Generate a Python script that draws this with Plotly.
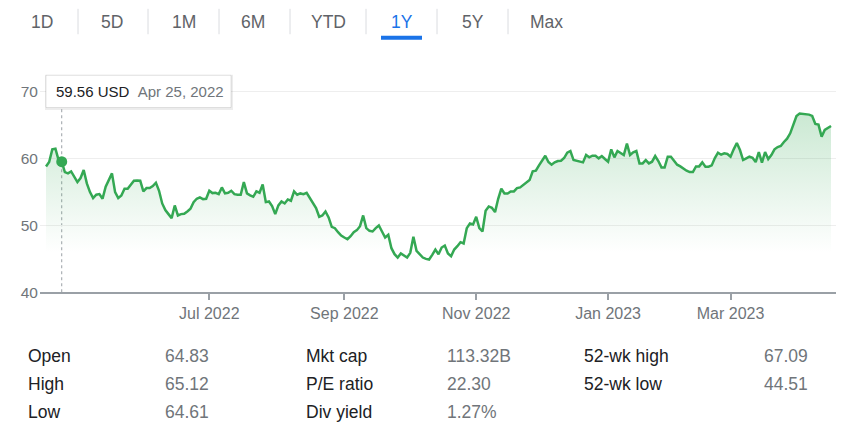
import pandas as pd
import plotly.graph_objects as go

W, H = 859, 441

# ---------------- data ----------------
holidays = ["2022-05-30", "2022-06-20", "2022-07-04", "2022-09-05", "2022-11-24",
            "2022-12-26", "2023-01-02", "2023-01-16", "2023-02-20", "2023-04-07"]
dates = pd.bdate_range("2022-04-18", "2023-04-17", freq="C", holidays=holidays)

prices = [
    58.84, 59.5, 61.4, 61.5, 59.8, 59.56, 58.0, 57.8, 58.1, 57.3,
    56.5, 57.1, 58.3, 56.3, 55.0, 54.1, 54.6, 54.7, 54.0, 55.8,
    56.7, 57.8, 55.0, 54.1, 54.5, 55.5, 55.5, 56.2, 56.7, 56.75,
    56.7, 55.1, 55.6, 55.6, 55.9, 56.4, 55.2, 53.3, 52.3, 51.7,
    51.1, 53.0, 51.5, 51.7, 51.75, 52.1, 52.5, 53.5, 54.0, 54.2,
    53.95, 54.0, 55.2, 54.85, 54.9, 54.7, 55.7, 54.8, 54.9, 55.2,
    54.7, 54.6, 54.6, 56.5, 54.8, 54.5, 54.3, 55.1, 54.9, 56.15,
    53.5, 53.6, 52.9, 51.7, 53.0, 53.6, 53.3, 53.9, 53.7, 55.1,
    54.6, 54.8, 54.7, 54.9, 54.2, 53.3, 52.6, 51.3, 51.5, 52.1,
    51.2, 49.8, 49.6, 49.0, 48.5, 48.2, 47.95, 48.4, 49.0, 49.3,
    49.9, 51.5, 49.6, 49.2, 49.1, 49.6, 50.0, 49.1, 48.2, 48.6,
    46.6, 45.7, 45.2, 45.8, 45.5, 45.2, 45.9, 48.3, 46.2, 45.7,
    45.2, 45.0, 44.9, 45.6, 46.4, 45.7, 46.7, 47.0, 45.8, 45.4,
    46.4, 46.9, 47.5, 47.3, 49.6, 50.3, 50.15, 51.3, 49.6, 49.1,
    52.2, 52.85, 52.65, 52.0, 54.0, 55.5, 54.8, 54.8, 55.1, 55.1,
    55.6, 55.7, 56.1, 56.5, 56.8, 58.1, 58.2, 59.0, 59.8, 60.45,
    59.5, 59.1, 59.45, 59.65, 59.7, 60.1, 60.9, 61.15, 59.8, 59.65,
    59.55, 59.45, 60.55, 60.2, 60.45, 60.45, 60.05, 60.4, 59.95, 59.55,
    61.4, 60.2, 61.15, 60.8, 60.55, 62.25, 60.55, 60.95, 61.15, 59.3,
    59.3, 59.8, 59.3, 59.55, 60.4, 59.65, 58.7, 58.7, 60.3, 60.3,
    59.65, 59.1, 58.85, 58.5, 58.2, 58.0, 58.0, 58.85, 58.85, 59.45,
    58.8, 58.8, 59.0, 60.1, 60.9, 60.6, 60.8, 60.7, 60.3, 61.4,
    62.35, 61.3, 59.8, 60.05, 60.3, 60.15, 59.5, 61.0, 59.4, 61.0,
    59.95, 60.55, 61.4, 61.75, 61.9, 62.5, 63.0, 63.8, 65.0, 66.4,
    66.75, 66.7, 66.6, 66.6, 66.4, 65.2, 65.1, 63.3, 64.3, 64.6, 64.9,
]
assert len(prices) == len(dates)

hover_index = 5  # Apr 25, 2022

tab_labels = ["1D", "5D", "1M", "6M", "YTD", "1Y", "5Y", "Max"]
active_tab = "1Y"

y_ticks = [40, 50, 60, 70]
x_tick_dates = ["2022-07-01", "2022-09-01", "2022-11-01", "2023-01-03", "2023-03-01"]
x_tick_labels = ["Jul 2022", "Sep 2022", "Nov 2022", "Jan 2023", "Mar 2023"]

stat_labels = [["Open", "High", "Low"], ["Mkt cap", "P/E ratio", "Div yield"], ["52-wk high", "52-wk low"]]
stat_values = [["64.83", "65.12", "64.61"], ["113.32B", "22.30", "1.27%"], ["67.09", "44.51"]]

# ---------------- style ----------------
GREEN = "#34a853"
GRAY_TXT = "#70757a"
DARK_TXT = "#202124"
FONT = "Arial, 'Liberation Sans', sans-serif"


def px(x):
    return x / W


def py(y):
    return 1 - y / H


fig = go.Figure()

fig.add_trace(go.Scatter(
    x=dates, y=prices, mode="lines",
    line=dict(color=GREEN, width=2.5),
    fill="tozeroy",
    fillgradient=dict(type="vertical", start=46.5, stop=67,
                      colorscale=[[0, "rgba(52,168,83,0)"], [1, "rgba(52,168,83,0.26)"]]),
    hoverinfo="skip", showlegend=False,
))

fig.add_trace(go.Scatter(
    x=[dates[hover_index]], y=[prices[hover_index]], mode="markers",
    marker=dict(color=GREEN, size=11), cliponaxis=False,
    hoverinfo="skip", showlegend=False,
))

shapes = []
annotations = []

# hover guide line
shapes.append(dict(type="line", xref="x", yref="paper",
                   x0=dates[hover_index], x1=dates[hover_index],
                   y0=py(297), y1=py(108),
                   line=dict(color="#9aa0a6", width=1, dash="dot"), layer="below"))

# tooltip box with soft shadow
shapes.append(dict(type="rect", xref="paper", yref="paper",
                   x0=px(45), x1=px(233), y0=py(110.5), y1=py(74.5),
                   fillcolor="rgba(0,0,0,0.07)", line=dict(width=0)))
shapes.append(dict(type="rect", xref="paper", yref="paper",
                   x0=px(46), x1=px(231), y0=py(108), y1=py(75),
                   fillcolor="white", line=dict(color="rgba(0,0,0,0.10)", width=1)))
d = dates[hover_index]
tip_date = f"{d.strftime('%b')} {d.day}, {d.year}"
annotations.append(dict(xref="paper", yref="paper", x=px(54), y=py(91.5),
                        xanchor="left", yanchor="middle", showarrow=False,
                        text=f"<span style='color:{DARK_TXT}'>{prices[hover_index]:.2f} USD</span>"
                             f"&nbsp;&nbsp;<span style='color:{GRAY_TXT}'>{tip_date}</span>",
                        font=dict(family=FONT, size=15)))

# tabs
tab_centers = [42, 112, 184, 253, 328, 402, 473, 546]
for lab, cx in zip(tab_labels, tab_centers):
    annotations.append(dict(xref="paper", yref="paper", x=px(cx), y=py(20),
                            xanchor="center", yanchor="middle", showarrow=False,
                            text=lab,
                            font=dict(family=FONT, size=17.5,
                                      color="#1a73e8" if lab == active_tab else "#5f6368")))
for sx in [78, 148, 219, 290, 366, 437, 508]:
    shapes.append(dict(type="line", xref="paper", yref="paper",
                       x0=px(sx), x1=px(sx), y0=py(7), y1=py(33),
                       line=dict(color="#dadce0", width=1)))
shapes.append(dict(type="rect", xref="paper", yref="paper",
                   x0=px(381), x1=px(422), y0=py(38.5), y1=py(34.5),
                   fillcolor="#1a73e8", line=dict(width=0)))

# stats table
col_label_x = [26, 304, 582]
col_value_x = [163, 445, 762]
row_y = [362, 391, 420]
for c in range(3):
    for r, (lab, val) in enumerate(zip(stat_labels[c], stat_values[c])):
        annotations.append(dict(xref="paper", yref="paper", x=px(col_label_x[c]), y=py(row_y[r]),
                                xanchor="left", yanchor="middle", showarrow=False, text=lab,
                                font=dict(family=FONT, size=17.5, color=DARK_TXT)))
        annotations.append(dict(xref="paper", yref="paper", x=px(col_value_x[c]), y=py(row_y[r]),
                                xanchor="left", yanchor="middle", showarrow=False, text=val,
                                font=dict(family=FONT, size=17.5, color=GRAY_TXT)))

fig.update_layout(
    width=W, height=H, autosize=False,
    margin=dict(l=0, r=0, t=0, b=0),
    paper_bgcolor="white", plot_bgcolor="white",
    hovermode=False,
    showlegend=False,
    shapes=shapes,
    annotations=annotations,
    xaxis=dict(
        domain=[px(40), px(836)],
        type="date",
        range=["2022-04-14 02:00", "2023-04-18 14:00"],
        rangebreaks=[dict(bounds=["sat", "mon"]), dict(values=holidays)],
        tickmode="array", tickvals=x_tick_dates, ticktext=x_tick_labels,
        ticks="outside", ticklen=6, tickwidth=1.5, tickcolor="#9aa0a6",
        showline=True, linecolor="#9aa0a6", linewidth=2,
        showgrid=False, zeroline=False,
        tickfont=dict(family=FONT, size=16, color=GRAY_TXT),
    ),
    yaxis=dict(
        domain=[py(297), py(85.17)],
        range=[40, 71],
        tickmode="array", tickvals=y_ticks,
        showgrid=True, gridcolor="#eeeeee", gridwidth=1,
        zeroline=False, showline=False, ticks="",
        tickfont=dict(family=FONT, size=15.5, color=GRAY_TXT),
        ticklabelstandoff=1,
    ),
)

fig.write_html(
    "out.html",
    config={"displayModeBar": False},
    post_script=(
        "document.documentElement.style.margin='0px';"
        "document.documentElement.style.overflow='hidden';"
        "document.body.style.margin='0px';document.body.style.padding='0px';"
        "document.body.style.overflow='hidden';"
        "var gd=document.getElementById('{plot_id}');"
        "gd.style.position='fixed';gd.style.left='0px';gd.style.top='0px';"
        "Plotly.relayout(gd,{width:window.innerWidth,height:window.innerHeight});"
    ),
)
